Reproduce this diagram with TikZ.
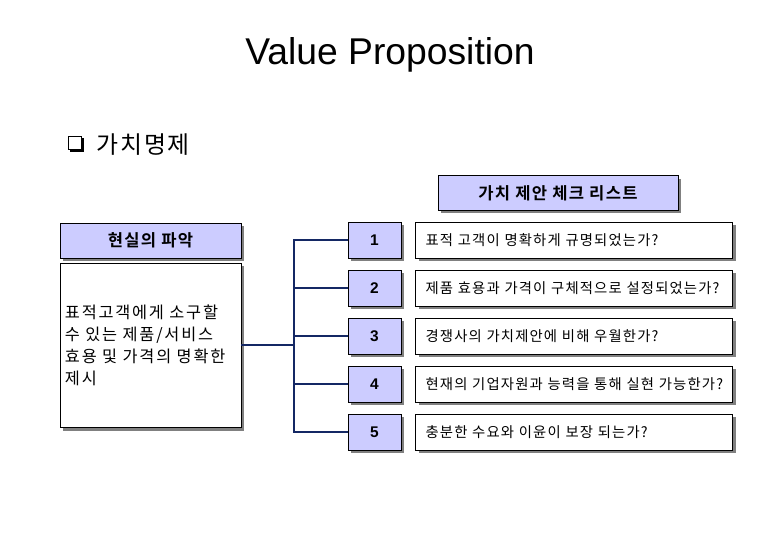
\documentclass[tikz,border=0pt]{standalone}
\usepackage{fontspec}
\setmainfont{Liberation Sans}
\newfontfamily\kr[LetterSpace=8, BoldFont={Noto Sans CJK KR Bold}]{Noto Sans CJK KR}
\newfontfamily\krwide[LetterSpace=11]{Noto Sans CJK KR}
\usepackage{tikz}
\usetikzlibrary{positioning, shadows}
\definecolor{vplavender}{RGB}{204,204,255}
\definecolor{vpshadow}{RGB}{128,128,128}
\definecolor{vpnavy}{RGB}{20,40,100}

\begin{document}
\begin{tikzpicture}[
  x=0.025cm, y=-0.025cm,
  node distance=1.2cm,
  shade/.style={drop shadow={shadow xshift=0.075cm, shadow yshift=-0.075cm, fill=vpshadow, opacity=1}},
  headbox/.style={rectangle, draw=black, fill=vplavender, shade, minimum height=0.87cm, inner sep=0pt, align=center, font=\kr\bfseries\fontsize{11.8}{13}\selectfont},
  numbox/.style={rectangle, draw=black, fill=vplavender, shade, minimum width=1.325cm, minimum height=0.9cm, inner sep=0pt, font=\bfseries\fontsize{11}{12}\selectfont},
  itembox/.style={rectangle, draw=black, fill=white, shade, text width=7.425cm, minimum height=0.9cm, inner xsep=0.25cm, inner ysep=0pt, align=left, font=\kr\fontsize{10.2}{12}\selectfont},
  link/.style={draw=vpnavy, line width=0.8pt}
]
\useasboundingbox (0,0) rectangle (780,540);

% title and section mark
\node (title) at (390,55) {\fontsize{26.5}{30}\selectfont Value Proposition};
\node[rectangle, draw=black, line width=0.6pt, fill=white, minimum size=0.33cm, inner sep=0pt,
  drop shadow={shadow xshift=0.05cm, shadow yshift=-0.05cm, fill=black, opacity=1}] (mark) at (75,143) {};
\node[anchor=west, inner sep=0pt, font=\kr\fontsize{17}{18}\selectfont] (section) at (96,145) {가치명제};

% left side
\node[headbox, minimum width=6cm] (checkhead) at (558,193) {가치 제안 체크 리스트};
\node[headbox, minimum width=4.525cm] (reality) at (150.5,240.5) {현실의 파악};
\node[rectangle, draw=black, fill=white, shade, below=0.125cm of reality, minimum height=4.1cm,
  text width=4.275cm, inner xsep=0.125cm, align=left, font=\krwide\fontsize{11.6}{15.5}\selectfont] (desc)
  {표적고객에게 소구할\\수 있는 제품/서비스\\효용 및 가격의 명확한\\제시};

% check list
\node[numbox] (num1) at (374.5,240) {1};
\node[numbox, below of=num1] (num2) {2};
\node[numbox, below of=num2] (num3) {3};
\node[numbox, below of=num3] (num4) {4};
\node[numbox, below of=num4] (num5) {5};
\node[itembox, right=0.35cm of num1] (item1) {표적 고객이 명확하게 규명되었는가?};
\node[itembox, right=0.35cm of num2] (item2) {제품 효용과 가격이 구체적으로 설정되었는가?};
\node[itembox, right=0.35cm of num3] (item3) {경쟁사의 가치제안에 비해 우월한가?};
\node[itembox, right=0.35cm of num4] (item4) {현재의 기업자원과 능력을 통해 실현 가능한가?};
\node[itembox, right=0.35cm of num5] (item5) {충분한 수요와 이윤이 보장 되는가?};

% connectors
\coordinate (hub) at (294,345);
\draw[link] (desc.east |- hub) -- (hub);
\draw[link] (num1.west) -| (hub);
\draw[link] (num2.west) -| (hub);
\draw[link] (num3.west) -| (hub);
\draw[link] (num4.west) -| (hub);
\draw[link] (num5.west) -| (hub);
\end{tikzpicture}
\end{document}
